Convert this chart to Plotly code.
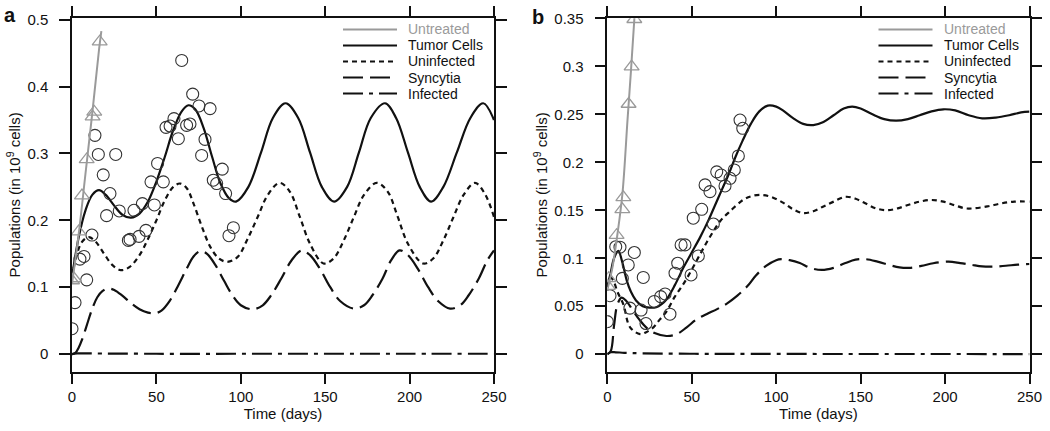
import plotly.graph_objects as go

# ---------------- Panel a data ----------------
a_obs_t = [0, 1.8, 8.7, 4.7, 7.1, 11.8, 20.5, 22.5, 18.5, 15.6, 25.9, 13.6, 28, 33.4, 34.4, 36.7,
           39.7, 41.7, 43.8, 48.8, 46.8, 50.7, 54.1, 55.7, 58.1, 60.4, 63, 65, 67.9, 69.9, 71.5,
           75.2, 81.8, 78.8, 76.8, 83.7, 85.7, 89, 91, 93, 95.6]
a_obs_v = [0.038, 0.077, 0.111, 0.142, 0.146, 0.178, 0.207, 0.240, 0.268, 0.2985, 0.2985, 0.327,
           0.214, 0.170, 0.1715, 0.215, 0.176, 0.225, 0.185, 0.223, 0.2575, 0.285, 0.2575, 0.339,
           0.341, 0.352, 0.322, 0.439, 0.342, 0.344, 0.3886, 0.371, 0.367, 0.321, 0.297, 0.260,
           0.255, 0.2765, 0.240, 0.177, 0.189]
a_tri_t = [0, 1.2, 3.9, 5.9, 8.7, 12.2, 13.2, 16.4]
a_tri_v = [0.11, 0.113, 0.183, 0.237, 0.291, 0.355, 0.362, 0.467]
a_untr_t = [0, 4, 8, 12, 16, 17.4]
a_untr_v = [0.105, 0.18, 0.27, 0.36, 0.455, 0.483]

a_tum_t = [0, 4, 8, 12, 16, 20, 25, 30, 35, 40, 45, 50, 55, 60, 65, 69, 73, 78, 83, 88, 93, 97.2,
           104.5, 112, 119, 126.5, 134, 141, 148, 155.3, 163, 170, 177, 185.4, 192, 199, 206, 212.8,
           220, 228, 236, 243.6, 250]
a_tum_v = [0.115, 0.175, 0.215, 0.238, 0.245, 0.238, 0.222, 0.208, 0.204, 0.210, 0.228, 0.258,
           0.295, 0.335, 0.363, 0.372, 0.366, 0.338, 0.295, 0.255, 0.233, 0.228,
           0.250, 0.3015, 0.353, 0.375, 0.353, 0.3015, 0.250, 0.228, 0.250, 0.3015, 0.353, 0.375,
           0.353, 0.3015, 0.250, 0.228, 0.250, 0.3015, 0.353, 0.375, 0.350]
a_uninf_t = [0, 3, 6, 10, 14, 19, 24, 29, 34, 40, 45, 50, 55, 60, 64, 68, 72, 77, 82, 87, 92, 98,
             104, 110, 116, 123, 129, 135, 141, 149, 155, 161, 167, 173, 180.5, 187, 193, 199, 208,
             214, 220, 226, 232, 238.7, 244.5, 250]
a_uninf_v = [0.115, 0.15, 0.168, 0.175, 0.168, 0.15, 0.133, 0.1255, 0.13, 0.148, 0.172, 0.2, 0.23,
             0.25, 0.255, 0.248, 0.225, 0.19, 0.16, 0.143, 0.138, 0.145, 0.172, 0.205, 0.238, 0.256,
             0.243, 0.205, 0.165, 0.1355, 0.143, 0.17, 0.205, 0.238, 0.256, 0.243, 0.205, 0.165,
             0.1355, 0.143, 0.17, 0.205, 0.238, 0.256, 0.240, 0.205]
a_sync_t = [0, 2, 4, 6, 9, 12, 15, 18, 21.5, 25, 30, 35, 40, 45, 49, 53, 58, 63, 68, 72, 76, 80,
            85, 90, 95, 100, 107, 113, 118, 124, 130, 136, 141, 147, 153, 159, 167, 173, 178, 184,
            189, 194, 199, 205, 211, 217, 224, 230, 235, 241, 246, 250]
a_sync_v = [0, 0.002, 0.01, 0.022, 0.045, 0.068, 0.085, 0.094, 0.098, 0.096, 0.087, 0.076, 0.067,
            0.062, 0.061, 0.065, 0.08, 0.103, 0.128, 0.146, 0.154, 0.15, 0.133, 0.11, 0.088, 0.073,
            0.067, 0.073, 0.088, 0.113, 0.14, 0.155, 0.148, 0.127, 0.1, 0.079, 0.068, 0.073, 0.088,
            0.113, 0.14, 0.155, 0.148, 0.127, 0.1, 0.079, 0.068, 0.073, 0.088, 0.113, 0.14, 0.155]
a_inf_t = [0, 3, 10, 50, 100, 150, 200, 250]
a_inf_v = [0, 0.001, 0.001, 0.0005, 0.0005, 0.0005, 0.0005, 0.0005]

# ---------------- Panel b data ----------------
b_obs_t = [0, 1.6, 5, 7.5, 12.4, 8.9, 16, 13.4, 21.3, 20, 22.9, 27.8, 31.6, 34.2, 37.1, 40.1, 41.7,
           43.7, 46, 49.6, 53.9, 50.9, 55.9, 62.8, 60.8, 57.9, 64.8, 67.4, 69.7, 72.7, 75.2, 77.6,
           78.6, 80.2]
b_obs_v = [0.034, 0.061, 0.112, 0.1115, 0.093, 0.079, 0.106, 0.048, 0.080, 0.046, 0.032, 0.055,
           0.060, 0.0628, 0.0417, 0.0844, 0.0948, 0.1139, 0.1139, 0.0826, 0.1024, 0.1417, 0.151,
           0.1357, 0.1694, 0.1764, 0.190, 0.1868, 0.1753, 0.1833, 0.192, 0.2066, 0.244, 0.2354]
b_tri_t = [0.3, 0.8, 5.5, 8.9, 9.5, 12.6, 14.4, 16.0]
b_tri_v = [0.071, 0.079, 0.124, 0.151, 0.1635, 0.2607, 0.2996, 0.349]
b_untr_t = [0, 3, 6, 9, 12, 14, 16.3]
b_untr_v = [0.067, 0.09, 0.125, 0.168, 0.245, 0.295, 0.357]

b_tum_t = [0, 2, 4, 6.5, 9, 11.5, 14, 17, 21, 25, 29, 32, 35, 40, 45, 50, 55, 60, 64, 68, 72, 76,
           80, 85, 90, 95, 100, 104, 110, 116, 122, 128, 134, 140, 145, 150, 157, 164, 171, 178,
           185, 192, 199, 206, 214, 222, 230, 238, 245, 250]
b_tum_v = [0.07, 0.085, 0.1, 0.1076, 0.095, 0.077, 0.065, 0.056, 0.05, 0.0485, 0.049, 0.052, 0.057,
           0.072, 0.09, 0.106, 0.122, 0.14, 0.156, 0.172, 0.188, 0.206, 0.222, 0.24, 0.253, 0.259,
           0.258, 0.254, 0.246, 0.240, 0.2388, 0.242, 0.249, 0.256, 0.258, 0.256, 0.250, 0.245,
           0.2433, 0.245, 0.249, 0.253, 0.2552, 0.254, 0.249, 0.2458, 0.2465, 0.249, 0.252, 0.2527]
b_uninf_t = [0, 2, 4, 6, 9.5, 13.5, 19.4, 23, 27.3, 31, 35.2, 40, 45, 50, 54.9, 59, 62.8, 67, 72.7,
             80.6, 86, 91.4, 97, 104, 110, 116, 122, 128, 134, 141, 147, 153, 159, 165.5, 172, 179,
             185, 192, 199, 206, 212, 217, 225, 233, 241, 250]
b_uninf_v = [0.07, 0.08, 0.075, 0.065, 0.052, 0.028, 0.021, 0.023, 0.028, 0.036, 0.045, 0.06, 0.073,
             0.088, 0.104, 0.117, 0.128, 0.139, 0.149, 0.161, 0.165, 0.166, 0.164, 0.158, 0.151,
             0.147, 0.149, 0.154, 0.159, 0.164, 0.162, 0.157, 0.152, 0.150, 0.152, 0.156, 0.159,
             0.1607, 0.159, 0.155, 0.152, 0.152, 0.154, 0.157, 0.159, 0.159]
b_sync_t = [0, 2, 4, 6, 8.5, 11, 15, 19, 23, 28, 35, 41, 47, 53, 59, 65, 71, 77, 83, 88, 94, 100,
            103, 108, 114, 120, 127, 134, 141, 147, 153, 160, 167, 173, 179, 186, 193, 202, 209, 216,
            222, 229, 236, 243, 250]
b_sync_v = [0, 0.003, 0.03, 0.052, 0.059, 0.056, 0.046, 0.036, 0.028, 0.022, 0.019, 0.0208, 0.028,
            0.0365, 0.042, 0.047, 0.053, 0.061, 0.071, 0.082, 0.092, 0.098, 0.099, 0.098, 0.095,
            0.09, 0.0878, 0.09, 0.095, 0.0985, 0.099, 0.0965, 0.093, 0.0905, 0.090, 0.092, 0.0948,
            0.0965, 0.095, 0.093, 0.0915, 0.0913, 0.0922, 0.0933, 0.094]
b_inf_t = [0, 2, 5, 10, 20, 50, 100, 250]
b_inf_v = [0, 0.002, 0.002, 0.0015, 0.001, 0.0005, 0.0003, 0.0002]

legend_names = ["Untreated", "Tumor Cells", "Uninfected", "Syncytia", "Infected"]
x_ticks = [0, 50, 100, 150, 200, 250]
a_y_ticks = [0, 0.1, 0.2, 0.3, 0.4, 0.5]
a_y_labels = ["0", "0.1", "0.2", "0.3", "0.4", "0.5"]
b_y_ticks = [0, 0.05, 0.1, 0.15, 0.2, 0.25, 0.3, 0.35]
b_y_labels = ["0", "0.05", "0.1", "0.15", "0.2", "0.25", "0.3", "0.35"]

# ---------------- styling ----------------
FONT = "Liberation Sans, Arial, Helvetica, sans-serif"
GRAY = "#9a9a9a"
BLACK = "#111111"
styles = {
    "Untreated": dict(color=GRAY, width=2, dash="solid"),
    "Tumor Cells": dict(color=BLACK, width=2.2, dash="solid"),
    "Uninfected": dict(color=BLACK, width=2.2, dash="5px,4px"),
    "Syncytia": dict(color=BLACK, width=2.2, dash="20px,7px"),
    "Infected": dict(color=BLACK, width=2.2, dash="20px,6px,4px,6px"),
}

fig = go.Figure()


def add_panel(xa, ya, curves, obs_t, obs_v, tri_t, tri_v, untr_t, untr_v):
    for name, (t, v) in curves.items():
        fig.add_trace(go.Scatter(x=t, y=v, mode="lines", name=name, showlegend=False,
                                 line=dict(shape="spline", smoothing=1.0, **styles[name]),
                                 xaxis=xa, yaxis=ya, hoverinfo="skip"))
    fig.add_trace(go.Scatter(x=obs_t, y=obs_v, mode="markers", showlegend=False,
                             marker=dict(symbol="circle-open", size=12, color="#333333",
                                         line=dict(width=1.1)),
                             xaxis=xa, yaxis=ya))
    fig.add_trace(go.Scatter(x=untr_t, y=untr_v, mode="lines", showlegend=False,
                             line=dict(shape="spline", **styles["Untreated"]),
                             xaxis=xa, yaxis=ya))
    fig.add_trace(go.Scatter(x=tri_t, y=tri_v, mode="markers", showlegend=False,
                             marker=dict(symbol="triangle-up-open", size=13, color=GRAY,
                                         line=dict(width=1.3)),
                             xaxis=xa, yaxis=ya))


add_panel("x", "y",
          {"Tumor Cells": (a_tum_t, a_tum_v), "Uninfected": (a_uninf_t, a_uninf_v),
           "Syncytia": (a_sync_t, a_sync_v), "Infected": (a_inf_t, a_inf_v)},
          a_obs_t, a_obs_v, a_tri_t, a_tri_v, a_untr_t, a_untr_v)
add_panel("x2", "y2",
          {"Tumor Cells": (b_tum_t, b_tum_v), "Uninfected": (b_uninf_t, b_uninf_v),
           "Syncytia": (b_sync_t, b_sync_v), "Infected": (b_inf_t, b_inf_v)},
          b_obs_t, b_obs_v, b_tri_t, b_tri_v, b_untr_t, b_untr_v)

W, H = 1050, 431
ydom = [1 - 371.5 / H, 1 - 18.3 / H]
axis_common = dict(showline=True, linecolor=BLACK, linewidth=1.5, mirror="ticks",
                   ticks="outside", ticklen=11, tickwidth=1.5, tickcolor=BLACK,
                   showgrid=False, zeroline=False, automargin=False,
                   tickfont=dict(family=FONT, size=15, color=BLACK))
xtitle = dict(text="Time (days)", font=dict(family=FONT, size=15, color=BLACK), standoff=4)
ytitle = dict(text="Populations (in 10<sup>9</sup> cells)",
              font=dict(family=FONT, size=15, color=BLACK), standoff=3)

fig.update_layout(
    width=W, height=H, margin=dict(l=0, r=0, t=0, b=0),
    paper_bgcolor="white", plot_bgcolor="white", showlegend=False,
    font=dict(family=FONT, size=15, color=BLACK),
    xaxis=dict(domain=[72 / W, 494 / W], range=[0, 250], tickvals=x_ticks, anchor="y",
               title=xtitle, ticklabelstandoff=0, **axis_common),
    yaxis=dict(domain=ydom, range=[-0.026, 0.502], tickvals=a_y_ticks, ticktext=a_y_labels,
               anchor="x", title=ytitle, ticklabelstandoff=8, **axis_common),
    xaxis2=dict(domain=[607.3 / W, 1029.5 / W], range=[0, 250], tickvals=x_ticks, anchor="y2",
                title=xtitle, ticklabelstandoff=0, **axis_common),
    yaxis2=dict(domain=ydom, range=[-0.018, 0.35], tickvals=b_y_ticks, ticktext=b_y_labels,
                anchor="x2", title=ytitle, ticklabelstandoff=8, **axis_common),
)

# panel letters
for letter, px, py in [("a", 10, 15), ("b", 538, 17)]:
    fig.add_annotation(x=px / W, y=1 - py / H, xref="paper", yref="paper", text="<b>%s</b>" % letter,
                       showarrow=False, xanchor="center", yanchor="middle",
                       font=dict(family=FONT, size=20, color=BLACK))

# manual legends (line sample + label) in the top-right of each panel
row_y = [29.5, 45.5, 61.5, 77.5, 93.5]
for x_line0, x_line1, x_text in [(343, 397, 407), (878.5, 932.5, 942.5)]:
    for name, py in zip(legend_names, row_y):
        st = styles[name]
        fig.add_shape(type="line", xref="paper", yref="paper",
                      x0=x_line0 / W, x1=x_line1 / W, y0=1 - py / H, y1=1 - py / H,
                      line=dict(color=st["color"], width=st["width"], dash=st["dash"]))
        fig.add_annotation(x=x_text / W, y=1 - py / H, xref="paper", yref="paper", text=name,
                           showarrow=False, xanchor="left", yanchor="middle",
                           borderpad=0, valign="middle",
                           font=dict(family=FONT, size=14,
                                     color=GRAY if name == "Untreated" else BLACK))

fig.write_html("out.html", config={"displayModeBar": False},
               post_script="document.body.style.margin='0';")
